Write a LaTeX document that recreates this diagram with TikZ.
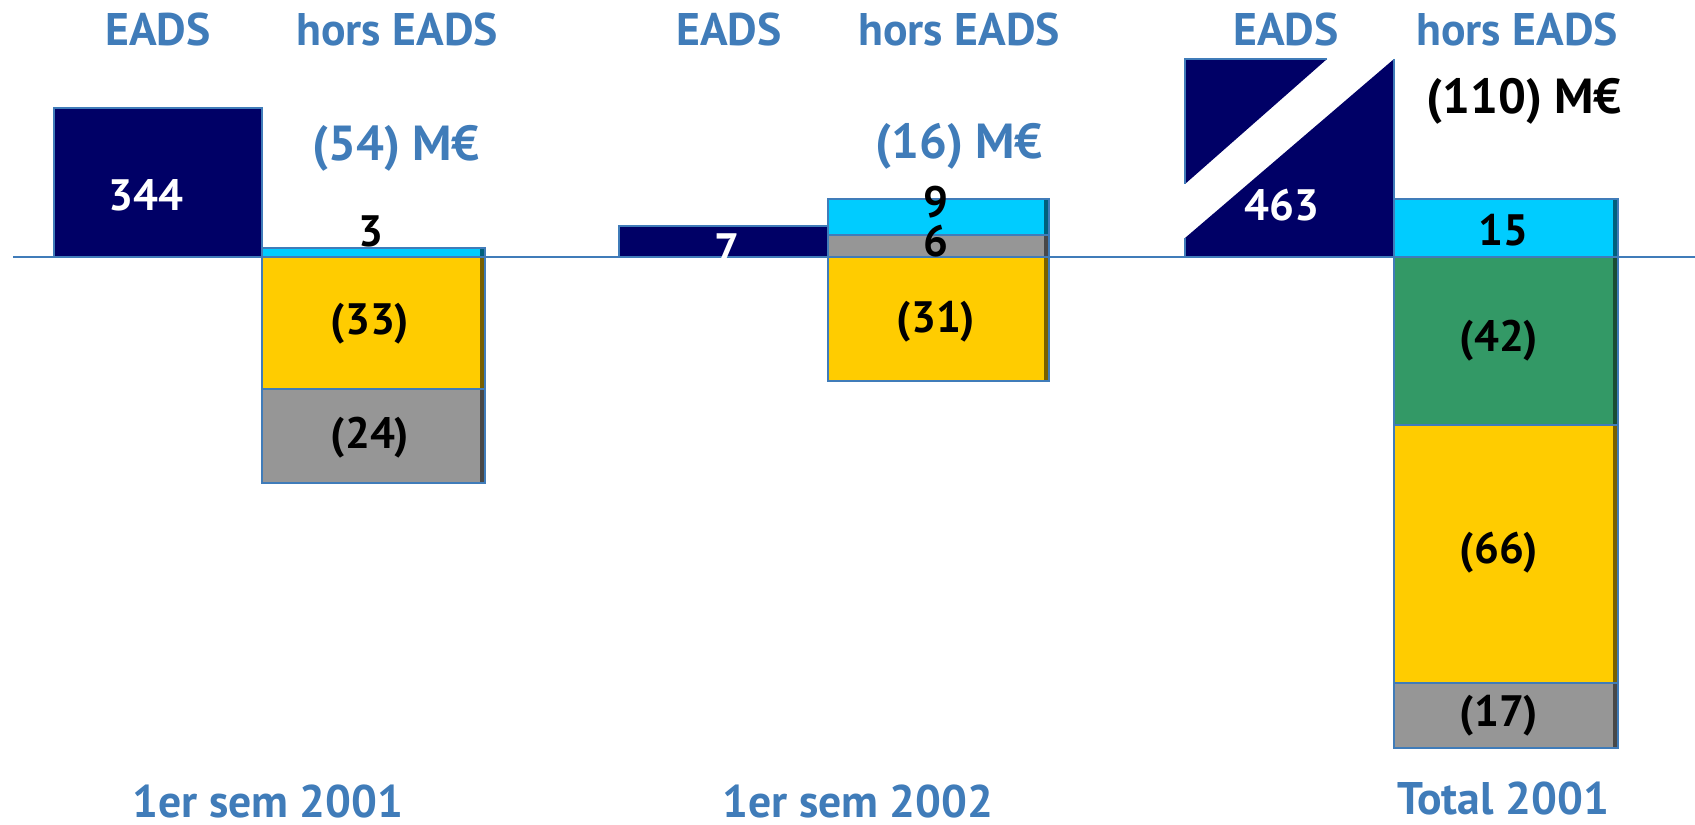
\documentclass[tikz,border=0pt]{standalone}
\usepackage{fontspec}
\setmainfont{PT Sans}
\definecolor{eadsblue}{RGB}{64,124,185}
\definecolor{navy}{RGB}{0,0,102}
\definecolor{cyanbar}{RGB}{0,204,255}
\definecolor{cyanside}{RGB}{0,96,125}
\definecolor{yellowbar}{RGB}{255,204,0}
\definecolor{yellowside}{RGB}{120,96,0}
\definecolor{graybar}{RGB}{150,150,150}
\definecolor{grayside}{RGB}{72,72,72}
\definecolor{greenbar}{RGB}{51,153,102}
\definecolor{greenside}{RGB}{26,77,51}

\begin{document}
\begin{tikzpicture}[x=0.01cm, y=0.01cm]
\tikzstyle{every node}+=[inner sep=0pt]
\tikzstyle{hdr}=[text=eadsblue, font=\fontsize{13}{15}\selectfont\bfseries]
\tikzstyle{sum}=[text=eadsblue, font=\fontsize{14}{16}\selectfont\bfseries]
\tikzstyle{val}=[font=\fontsize{12.5}{14}\selectfont\bfseries]
\tikzstyle{edge}=[draw=eadsblue, line width=0.8pt]
\useasboundingbox (0,0) rectangle (1695,-825);
% EADS columns
\fill [navy] (54,-108) rectangle (262,-257);
\draw [edge] (54,-108) rectangle (262,-257);
\fill [navy] (619,-226) rectangle (828,-257);
\draw [edge] (619,-226) rectangle (828,-257);
\fill [navy] (1185,-59) -- (1327,-59) -- (1185,-184) -- cycle;
\fill [navy] (1394,-59) -- (1394,-257) -- (1185,-257) -- (1185,-238) -- cycle;
\draw [edge] (1327,-59) -- (1185,-59) -- (1185,-184);
\draw [edge] (1185,-238) -- (1185,-257) -- (1394,-257) -- (1394,-59);
% hors EADS, 1er sem 2001
\fill [cyanbar] (262,-248) rectangle (485,-257);
\fill [cyanside] (480,-248) rectangle (485,-257);
\draw [edge] (262,-248) rectangle (485,-257);
\fill [yellowbar] (262,-257) rectangle (485,-389);
\fill [yellowside] (480,-257) rectangle (485,-389);
\draw [edge] (262,-257) rectangle (485,-389);
\fill [graybar] (262,-389) rectangle (485,-483);
\fill [grayside] (480,-389) rectangle (485,-483);
\draw [edge] (262,-389) rectangle (485,-483);
% hors EADS, 1er sem 2002
\fill [cyanbar] (828,-199) rectangle (1049,-235);
\fill [cyanside] (1044,-199) rectangle (1049,-235);
\draw [edge] (828,-199) rectangle (1049,-235);
\fill [graybar] (828,-235) rectangle (1049,-257);
\fill [grayside] (1044,-235) rectangle (1049,-257);
\draw [edge] (828,-235) rectangle (1049,-257);
\fill [yellowbar] (828,-257) rectangle (1049,-381);
\fill [yellowside] (1044,-257) rectangle (1049,-381);
\draw [edge] (828,-257) rectangle (1049,-381);
% hors EADS, total 2001
\fill [cyanbar] (1394,-199) rectangle (1618,-257);
\fill [cyanside] (1613,-199) rectangle (1618,-257);
\draw [edge] (1394,-199) rectangle (1618,-257);
\fill [greenbar] (1394,-257) rectangle (1618,-425);
\fill [greenside] (1613,-257) rectangle (1618,-425);
\draw [edge] (1394,-257) rectangle (1618,-425);
\fill [yellowbar] (1394,-425) rectangle (1618,-683);
\fill [yellowside] (1613,-425) rectangle (1618,-683);
\draw [edge] (1394,-425) rectangle (1618,-683);
\fill [graybar] (1394,-683) rectangle (1618,-748);
\fill [grayside] (1613,-683) rectangle (1618,-748);
\draw [edge] (1394,-683) rectangle (1618,-748);
% axis
\draw [eadsblue, line width=0.7pt] (13,-257) -- (1695,-257);
% headings
\node [hdr] (eads1) at (158,-30) {EADS};
\node [hdr] (hors1) at (397,-30) {hors EADS};
\node [hdr] (eads2) at (729,-30) {EADS};
\node [hdr] (hors2) at (959,-30) {hors EADS};
\node [hdr] (eads3) at (1286,-30) {EADS};
\node [hdr] (hors3) at (1517,-30) {hors EADS};
\node [sum] (tot1) at (396,-148) {(54) M€};
\node [sum] (tot2) at (959,-146) {(16) M€};
\node [sum, text=black] (tot3) at (1524,-101) {(110) M€};
% values
\node [val, text=white] (v344) at (146,-195) {344};
\node [val] (v3) at (371,-231) {3};
\node [val] (v33) at (370,-324) {(33)};
\node [val] (v24) at (370,-438) {(24)};
\node [val, text=white] (v7) at (727,-249) {7};
\node [val] (v9) at (936,-202) {9};
\node [val] (v6) at (936,-241) {6};
\node [val] (v31) at (936,-322) {(31)};
\node [val, text=white] (v463) at (1282,-205) {463};
\node [val] (v15) at (1503,-230) {15};
\node [val] (v42) at (1499,-341) {(42)};
\node [val] (v66) at (1499,-553) {(66)};
\node [val] (v17) at (1499,-716) {(17)};
% periods
\node [hdr] (sem01) at (268,-801) {1er sem 2001};
\node [hdr] (sem02) at (858,-801) {1er sem 2002};
\node [hdr] (total) at (1503,-798) {Total 2001};
\end{tikzpicture}
\end{document}
